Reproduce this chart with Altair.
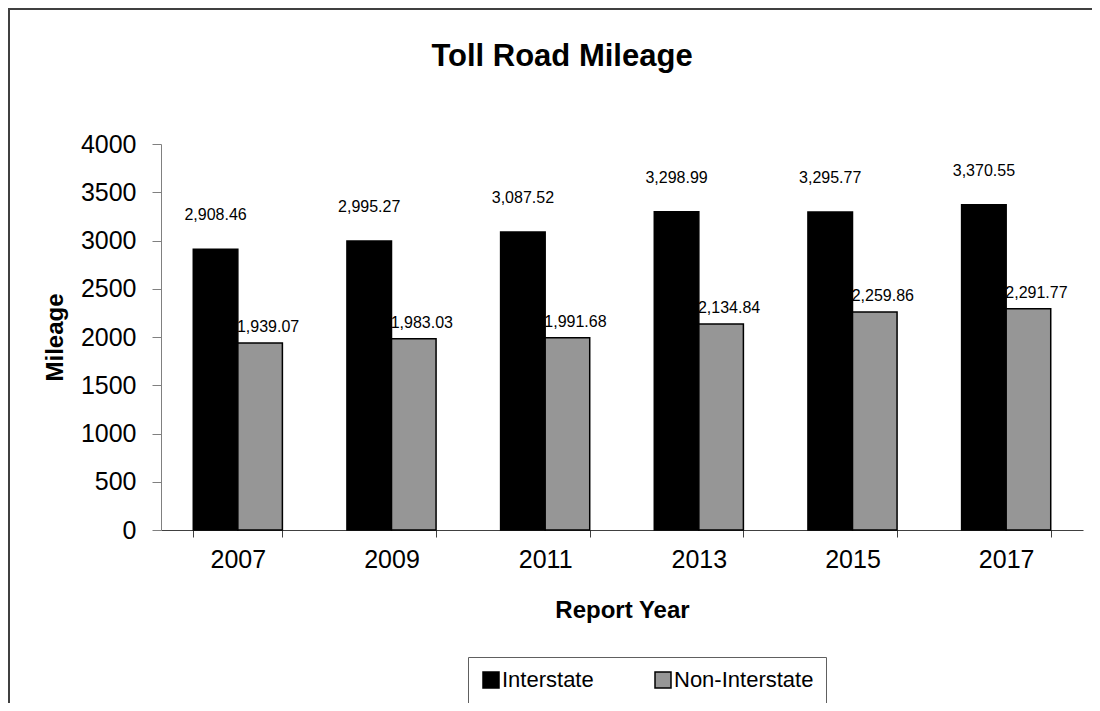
import altair as alt
import pandas as pd

years = ["2007", "2009", "2011", "2013", "2015", "2017"]
interstate = [2908.46, 2995.27, 3087.52, 3298.99, 3295.77, 3370.55]
non_interstate = [1939.07, 1983.03, 1991.68, 2134.84, 2259.86, 2291.77]
series = ["Interstate", "Non-Interstate"]
colors = ["#000000", "#969696"]
y_ticks = [0, 500, 1000, 1500, 2000, 2500, 3000, 3500, 4000]

rows = []
for i, yr in enumerate(years):
    rows.append({"Year": yr, "Series": series[0], "Mileage": interstate[i]})
    rows.append({"Year": yr, "Series": series[1], "Mileage": non_interstate[i]})
df = pd.DataFrame(rows)

FONT = "Liberation Sans, Arial, sans-serif"

x_enc = alt.X(
    "Year:N",
    sort=years,
    scale=alt.Scale(paddingInner=0.42, paddingOuter=0.21),
    axis=alt.Axis(
        title="Report Year",
        labelAngle=0,
        labelFontSize=25,
        labelFont=FONT,
        labelColor="black",
        labelPadding=10,
        tickBand="extent",
        tickSize=7,
        tickColor="#404040",
        domainColor="#404040",
        titleFontSize=24,
        titleFont=FONT,
        titleFontWeight="bold",
        titleColor="black",
        titleY=80,
        titleBaseline="middle",
    ),
)
y_enc = alt.Y(
    "Mileage:Q",
    scale=alt.Scale(domain=[0, 4000]),
    axis=alt.Axis(
        title="Mileage",
        values=y_ticks,
        format="d",
        grid=False,
        labelFontSize=25,
        labelFont=FONT,
        labelColor="black",
        labelPadding=16,
        tickSize=9,
        tickColor="#808080",
        domainColor="#808080",
        titleFontSize=24,
        titleFont=FONT,
        titleFontWeight="bold",
        titleColor="black",
        titleX=-106,
        titleY=193,
        titleAngle=-90,
        titleBaseline="middle",
        titleAlign="center",
    ),
)
xoff = alt.XOffset("Series:N", sort=series,
                   scale=alt.Scale(domain=series, paddingInner=0, paddingOuter=0))

base = alt.Chart(df)

bars = base.mark_bar(stroke="black", strokeWidth=1.5).encode(
    x=x_enc,
    y=y_enc,
    xOffset=xoff,
    color=alt.Color(
        "Series:N",
        sort=series,
        scale=alt.Scale(domain=series, range=colors),
        legend=alt.Legend(
            title=None,
            orient="none",
            legendX=307,
            legendY=513,
            direction="horizontal",
            symbolType="square",
            symbolSize=256,
            symbolStrokeColor="black",
            symbolStrokeWidth=1.5,
            labelFontSize=22,
            labelFont=FONT,
            labelColor="black",
            labelOffset=0,
            columnPadding=58,
            padding=12,
            strokeColor="#606060",
            fillColor="white",
        ),
    ),
)

lab_i = base.transform_filter(alt.datum.Series == series[0]).mark_text(
    fontSize=16, font=FONT, color="black", baseline="middle", dy=-34
).encode(x=x_enc, y=y_enc, xOffset=xoff, text=alt.Text("Mileage:Q", format=",.2f"))

lab_n = base.transform_filter(alt.datum.Series == series[1]).mark_text(
    fontSize=16, font=FONT, color="black", baseline="middle", dx=8, dy=-16
).encode(x=x_enc, y=y_enc, xOffset=xoff, text=alt.Text("Mileage:Q", format=",.2f"))

one = pd.DataFrame({"a": [0]})
border = alt.Chart(one).mark_rect(fill="transparent", stroke="#404040", strokeWidth=2).encode(
    x=alt.value(-152), x2=alt.value(1100), y=alt.value(-135), y2=alt.value(700)
)
cover_top = alt.Chart(one).mark_rule(color="white", strokeWidth=3).encode(
    x=alt.value(1), x2=alt.value(925), y=alt.value(0)
)
cover_right = alt.Chart(one).mark_rule(color="white", strokeWidth=3).encode(
    x=alt.value(922), y=alt.value(-2), y2=alt.value(385)
)

chart = alt.layer(border, cover_top, cover_right, bars, lab_i, lab_n).properties(
    width=922,
    height=386,
    background="white",
    padding={"left": 153, "top": 136, "right": 9, "bottom": 173},
    autosize=alt.AutoSizeParams(type="none"),
    title=alt.TitleParams(
        "Toll Road Mileage",
        fontSize=31,
        font=FONT,
        fontWeight="bold",
        color="black",
        anchor="middle",
        dx=-60,
        dy=65,
        offset=0,
    ),
).configure_view(stroke=None)

chart.save("out.html", embed_options={"renderer": "svg", "actions": False})
